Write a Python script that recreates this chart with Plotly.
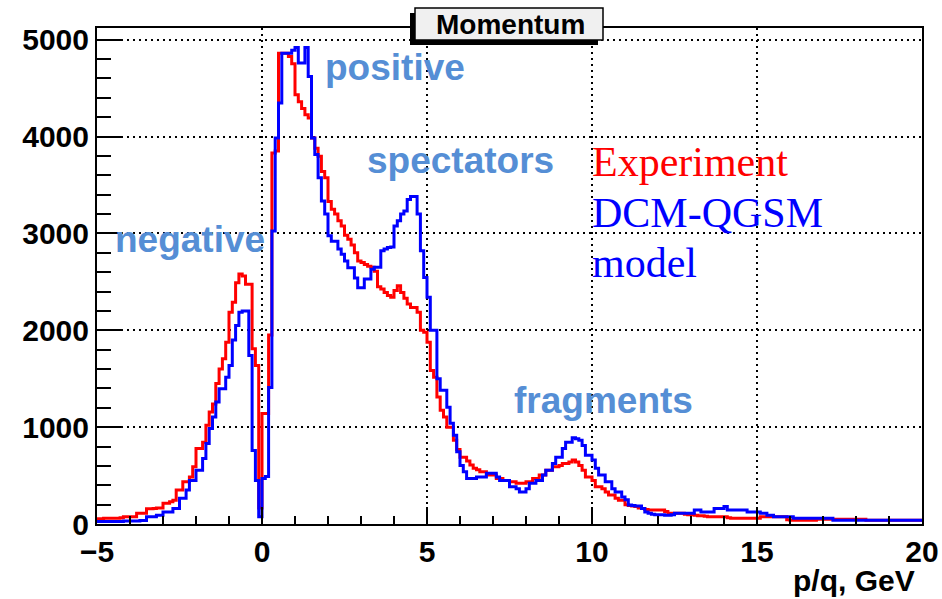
import numpy as np
import plotly.graph_objects as go

# ---------------- data (bin width 0.1, from -5 to 20) ----------------
x_min, x_max, bin_w = -5.0, 20.0, 0.1

model_dcm_qgsm = [
    25, 25, 25, 25, 25, 25, 25, 25, 30, 30,            # -5 .. -4
    30, 30, 30, 35, 35, 75, 75, 75, 90, 90,            # -4 .. -3
    125, 125, 125, 160, 160, 265, 265, 350, 450, 450,  # -3 .. -2
    555, 555, 675, 830, 985, 1105, 1260, 1395, 1395, 1515,  # -2 .. -1
    1635, 1900, 2050, 2185, 2200, 2200, 1740, 760, 450, 75,  # -1 .. 0
    470, 490, 1410, 3025, 3985, 4345, 4860, 4860, 4860, 4890,  # 0 .. 1
    4920, 4760, 4760, 4920, 4620, 3985, 3815, 3575, 3335, 3200,  # 1 .. 2
    2975, 2920, 2920, 2840, 2785, 2715, 2645, 2645, 2540, 2440,  # 2 .. 3
    2440, 2530, 2530, 2630, 2650, 2650, 2820, 2840, 2855, 2860,  # 3 .. 4
    3075, 3130, 3200, 3230, 3350, 3380, 3380, 3200, 2820, 2545,  # 4 .. 5
    2340, 2000, 2000, 1500, 1380, 1380, 1205, 1040, 915, 745,    # 5 .. 6
    605, 540, 470, 470, 470, 485, 485, 485, 525, 525,            # 6 .. 7
    525, 485, 450, 450, 450, 385, 385, 365, 330, 330,            # 7 .. 8
    365, 420, 420, 450, 450, 505, 555, 555, 625, 690,            # 8 .. 9
    690, 780, 845, 845, 890, 880, 865, 810, 710, 710,            # 9 .. 10
    660, 575, 505, 505, 435, 435, 365, 330, 330, 280,            # 10 .. 11
    250, 195, 190, 185, 185, 160, 125, 110, 100, 95,             # 11 .. 12
    95, 95, 90, 90, 95, 110, 110, 110, 110, 110,                 # 12 .. 13
    110, 145, 145, 125, 125, 125, 125, 160, 160, 160,            # 13 .. 14
    180, 145, 145, 145, 145, 145, 145, 125, 125, 125,            # 14 .. 15
    125, 110, 110, 90, 90, 75, 75, 75, 75, 75,                   # 15 .. 16
    75, 60, 60, 60, 60, 60, 60, 60, 60, 60,                      # 16 .. 17
    60, 60, 60, 40, 40, 40, 40, 40, 40, 40,                      # 17 .. 18
    40, 40, 40, 40, 40, 40, 40, 40, 40, 40,                      # 18 .. 19
    40, 40, 40, 40, 40, 40, 40, 40, 40, 40,                      # 19 .. 20
]

experiment = [
    55, 55, 60, 60, 60, 60, 60, 65, 75, 75,                      # -5 .. -4
    75, 75, 110, 110, 110, 158, 158, 160, 165, 165,              # -4 .. -3
    215, 215, 230, 245, 350, 350, 435, 435, 485, 590,            # -3 .. -2
    780, 780, 845, 1020, 1155, 1240, 1450, 1600, 1705, 1875,     # -2 .. -1
    2185, 2290, 2490, 2580, 2560, 2475, 2475, 1810, 1635, 165,   # -1 .. 0
    1140, 1140, 1950, 3830, 3850, 4860, 4860, 4860, 4825, 4750,  # 0 .. 1
    4430, 4360, 4290, 4225, 4190, 3985, 3880, 3795, 3640, 3575,  # 1 .. 2
    3330, 3250, 3200, 3130, 3075, 2980, 2940, 2880, 2800, 2715,  # 2 .. 3
    2700, 2680, 2660, 2650, 2610, 2450, 2425, 2390, 2360, 2340,  # 3 .. 4
    2410, 2460, 2390, 2330, 2270, 2235, 2235, 2185, 2000, 1980,  # 4 .. 5
    1875, 1585, 1515, 1310, 1175, 1105, 1000, 1000, 865, 770,    # 5 .. 6
    690, 690, 650, 610, 575, 560, 540, 540, 505, 505,            # 6 .. 7
    505, 470, 470, 450, 450, 435, 435, 420, 420, 420,            # 7 .. 8
    435, 435, 470, 470, 505, 505, 555, 555, 590, 590,            # 8 .. 9
    605, 625, 625, 640, 660, 640, 605, 555, 485, 485,            # 9 .. 10
    450, 385, 385, 365, 330, 300, 300, 265, 245, 245,            # 10 .. 11
    200, 190, 185, 180, 165, 160, 150, 145, 145, 145,            # 11 .. 12
    145, 145, 130, 110, 110, 110, 110, 110, 100, 95,             # 12 .. 13
    95, 90, 85, 85, 80, 75, 75, 75, 75, 75,                      # 13 .. 14
    75, 65, 60, 60, 60, 60, 60, 60, 60, 60,                      # 14 .. 15
    60, 75, 75, 75, 75, 75, 75, 75, 75, 45,                      # 15 .. 16
    40, 40, 40, 40, 40, 40, 40, 40, 50, 50,                      # 16 .. 17
    50, 50, 50, 50, 50, 50, 50, 50, 50, 50,                      # 17 .. 18
    50, 50, 50, 40, 40, 40, 40, 40, 40, 40,                      # 18 .. 19
    40, 40, 40, 40, 40, 40, 40, 40, 40, 40,                      # 19 .. 20
]

x_tick_vals = [-5, 0, 5, 10, 15, 20]
y_tick_vals = [0, 1000, 2000, 3000, 4000, 5000]
region_labels = ["negative", "positive", "spectators", "fragments"]
legend_lines = ["Experiment", "DCM-QGSM", "model"]

# ---------------- layout geometry (pixels) ----------------
W_FIG, H_FIG = 942, 599
L, R, T, B = 97, 922, 28, 524
PW, PH = R - L, B - T


def px(x):
    return (x - L) / PW


def py(y):
    return (B - y) / PH


n_bins = len(experiment)
edges = x_min + bin_w * np.arange(n_bins + 1)


def step_y(vals):
    return list(vals) + [vals[-1]]


fig = go.Figure()
fig.add_trace(go.Scatter(x=edges, y=step_y(experiment), mode="lines",
                         line=dict(color="#ff0000", width=3, shape="hv"),
                         name="Experiment", showlegend=False))
fig.add_trace(go.Scatter(x=edges, y=step_y(model_dcm_qgsm), mode="lines",
                         line=dict(color="#0000ff", width=3, shape="hv"),
                         name="DCM-QGSM model", showlegend=False))

tick_font = dict(family="Liberation Sans, Arial, sans-serif", size=30,
                 color="black", weight="bold")

fig.update_xaxes(range=[x_min, x_max], tickvals=x_tick_vals,
                 ticktext=[("\u2212" + str(-v)) if v < 0 else str(v) for v in x_tick_vals],
                 ticks="inside", ticklen=17, tickwidth=2, tickcolor="black",
                 showline=True, mirror=True, linecolor="black", linewidth=2,
                 showgrid=True, gridcolor="black", gridwidth=1.5, griddash="2px,4px",
                 zeroline=False, tickfont=tick_font, automargin=False,
                 minor=dict(ticks="inside", ticklen=8, tickwidth=2, tickcolor="black",
                            dtick=1, showgrid=False))
fig.update_yaxes(range=[0, 5120], tickvals=y_tick_vals,
                 ticks="inside", ticklen=25, tickwidth=2, tickcolor="black",
                 showline=True, mirror=True, linecolor="black", linewidth=2,
                 showgrid=True, gridcolor="black", gridwidth=1.5, griddash="2px,4px",
                 zeroline=False, tickfont=tick_font, automargin=False,
                 minor=dict(ticks="inside", ticklen=14, tickwidth=2, tickcolor="black",
                            dtick=200, showgrid=False))

# title box with shadow
shapes = [
    dict(type="rect", xref="paper", yref="paper", x0=px(410), x1=px(598),
         y0=py(45), y1=py(13), fillcolor="black", line=dict(width=0), layer="above"),
    dict(type="rect", xref="paper", yref="paper", x0=px(415), x1=px(603),
         y0=py(40), y1=py(8), fillcolor="#f0f0f0",
         line=dict(color="black", width=1.5), layer="above"),
]

annotations = [
    dict(text="Momentum", x=px(510), y=py(25), xref="paper", yref="paper",
         showarrow=False, xanchor="center", yanchor="middle",
         font=dict(family="Liberation Sans, Arial, sans-serif", size=28,
                   color="black", weight="bold")),
    dict(text="p/q, GeV", x=px(917), y=py(580), xref="paper", yref="paper",
         showarrow=False, xanchor="right", yanchor="middle",
         font=dict(family="Liberation Sans, Arial, sans-serif", size=30,
                   color="black", weight="bold")),
]

label_pos = [(190, 240), (395, 67), (460, 160), (603, 400)]
for txt, (lx, ly) in zip(region_labels, label_pos):
    annotations.append(dict(text=txt, x=px(lx), y=py(ly), xref="paper", yref="paper",
                            showarrow=False, xanchor="center", yanchor="middle",
                            font=dict(family="Liberation Sans, Arial, sans-serif",
                                      size=37, color="#558ed5", weight="bold")))

legend_colors = ["#ff0000", "#0000ff", "#0000ff"]
legend_y = [162, 213, 263]
for txt, col, ly in zip(legend_lines, legend_colors, legend_y):
    annotations.append(dict(text=txt, x=px(590), y=py(ly), xref="paper", yref="paper",
                            showarrow=False, xanchor="left", yanchor="middle",
                            font=dict(family="Liberation Serif, Times New Roman, serif",
                                      size=42, color=col)))

fig.update_layout(width=W_FIG, height=H_FIG,
                  margin=dict(l=L, r=W_FIG - R, t=T, b=H_FIG - B, pad=0),
                  paper_bgcolor="white", plot_bgcolor="white",
                  shapes=shapes, annotations=annotations, showlegend=False)

fig.write_html("out.html")
